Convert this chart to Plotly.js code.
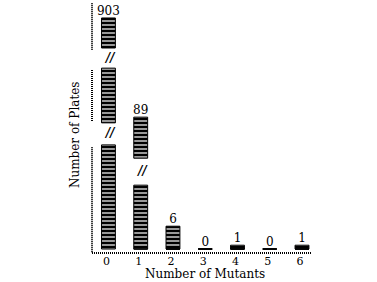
<!DOCTYPE html>
<html><head><meta charset="utf-8">
<script src="https://cdn.plot.ly/plotly-3.0.1.min.js"></script>
<style>html,body{margin:0;padding:0;background:#fff}</style>
</head><body><div id="chart" style="width:377px;height:282px"></div>
<script>
// categories
const mutants = [0, 1, 2, 3, 4, 5, 6];
const mutantLabels = ['0', '1', '2', '3', '4', '5', '6'];
// true counts (printed above bars)
const plates = [903, 89, 6, 0, 1, 0, 1];
// visible pieces of each broken bar, in plate units of the drawn scale
const lowBase  = [0, 0, 0, 0, 0, 0, 0];
const lowTop   = [27.4, 16.8, 6, 0, 1, 0, 1];
const midBase  = [33.2, 23.9, null, null, null, null, null];
const midTop   = [47.6, 34.7, null, null, null, null, null];
const highBase = [52.9, null, null, null, null, null, null];
const highTop  = [60.8, null, null, null, null, null, null];
// axis-break markers
const breakX = [0, 0, 1];
const breakY = [50.0, 30.3, 20.3];
// left axis visible pieces
const axisPieces = [[64.7, 52.4], [47.1, 33.4], [26.8, -1.05]];

const FONT = {family: 'DejaVu Serif', size: 12, color: '#000'};
const pattern = {shape: '-', fgcolor: '#fff', bgcolor: '#000', size: 4, solidity: 0.3, fillmode: 'replace'};

function seg(base, top) {
  return {
    type: 'bar', x: mutants,
    base: base.map(b => b === null ? 0 : b),
    y: top.map((t, i) => t === null ? 0 : t - base[i]),
    width: 0.43,
    marker: {color: '#000', pattern: pattern, line: {color: '#000', width: 1}},
    hoverinfo: 'skip', showlegend: false
  };
}

const displayTop = mutants.map((_, i) => Math.max(lowTop[i], midTop[i] || 0, highTop[i] || 0));

const traces = [
  seg(lowBase, lowTop),
  seg(midBase, midTop),
  seg(highBase, highTop),
  {type: 'scatter', mode: 'text', x: mutants, y: displayTop, text: plates.map(String),
   textposition: 'top center', textfont: FONT, showlegend: false, hoverinfo: 'skip', cliponaxis: false},
  {type: 'scatter', mode: 'text', x: breakX.map(v => v + 0.05), y: breakY, text: breakX.map(() => '//'),
   textposition: 'middle center', textfont: {family: 'DejaVu Serif', size: 12, color: '#000', style: 'italic', weight: 'bold'},
   showlegend: false, hoverinfo: 'skip', cliponaxis: false}
];

const shapes = axisPieces.map(p => ({
  type: 'line', xref: 'paper', yref: 'y', x0: 0, x1: 0, y0: p[0], y1: p[1],
  line: {color: '#000', width: 2, dash: '1px,1px'}
}));
shapes.push({type: 'line', xref: 'paper', yref: 'paper', x0: 0, x1: 1, y0: 0, y1: 0,
  line: {color: '#000', width: 2, dash: '1px,1px'}});

const layout = {
  width: 377, height: 282,
  margin: {l: 92, r: 65, t: 3, b: 29},
  paper_bgcolor: '#fff', plot_bgcolor: '#fff',
  font: FONT,
  barmode: 'overlay',
  xaxis: {range: [-0.51, 6.31], tickvals: mutants, ticktext: mutantLabels,
    showgrid: false, zeroline: false, showline: false, ticks: '',
    tickfont: {family: 'DejaVu Serif', size: 11, color: '#000'}, ticklabelshift: -2, ticklabelstandoff: 0},
  yaxis: {range: [-1.05, 64.74], showgrid: false, zeroline: false, showline: false,
    showticklabels: false, ticks: ''},
  shapes: shapes,
  annotations: [
    {text: 'Number of Mutants', xref: 'paper', yref: 'paper', x: 0.514, y: -0.084,
     xanchor: 'center', yanchor: 'middle', showarrow: false, font: FONT},
    {text: 'Number of Plates', xref: 'paper', yref: 'paper', x: -0.077, y: 0.472,
     xanchor: 'center', yanchor: 'middle', showarrow: false, textangle: -90, font: FONT}
  ]
};

Plotly.newPlot('chart', traces, layout, {displayModeBar: false, staticPlot: true});
</script>
</body></html>
